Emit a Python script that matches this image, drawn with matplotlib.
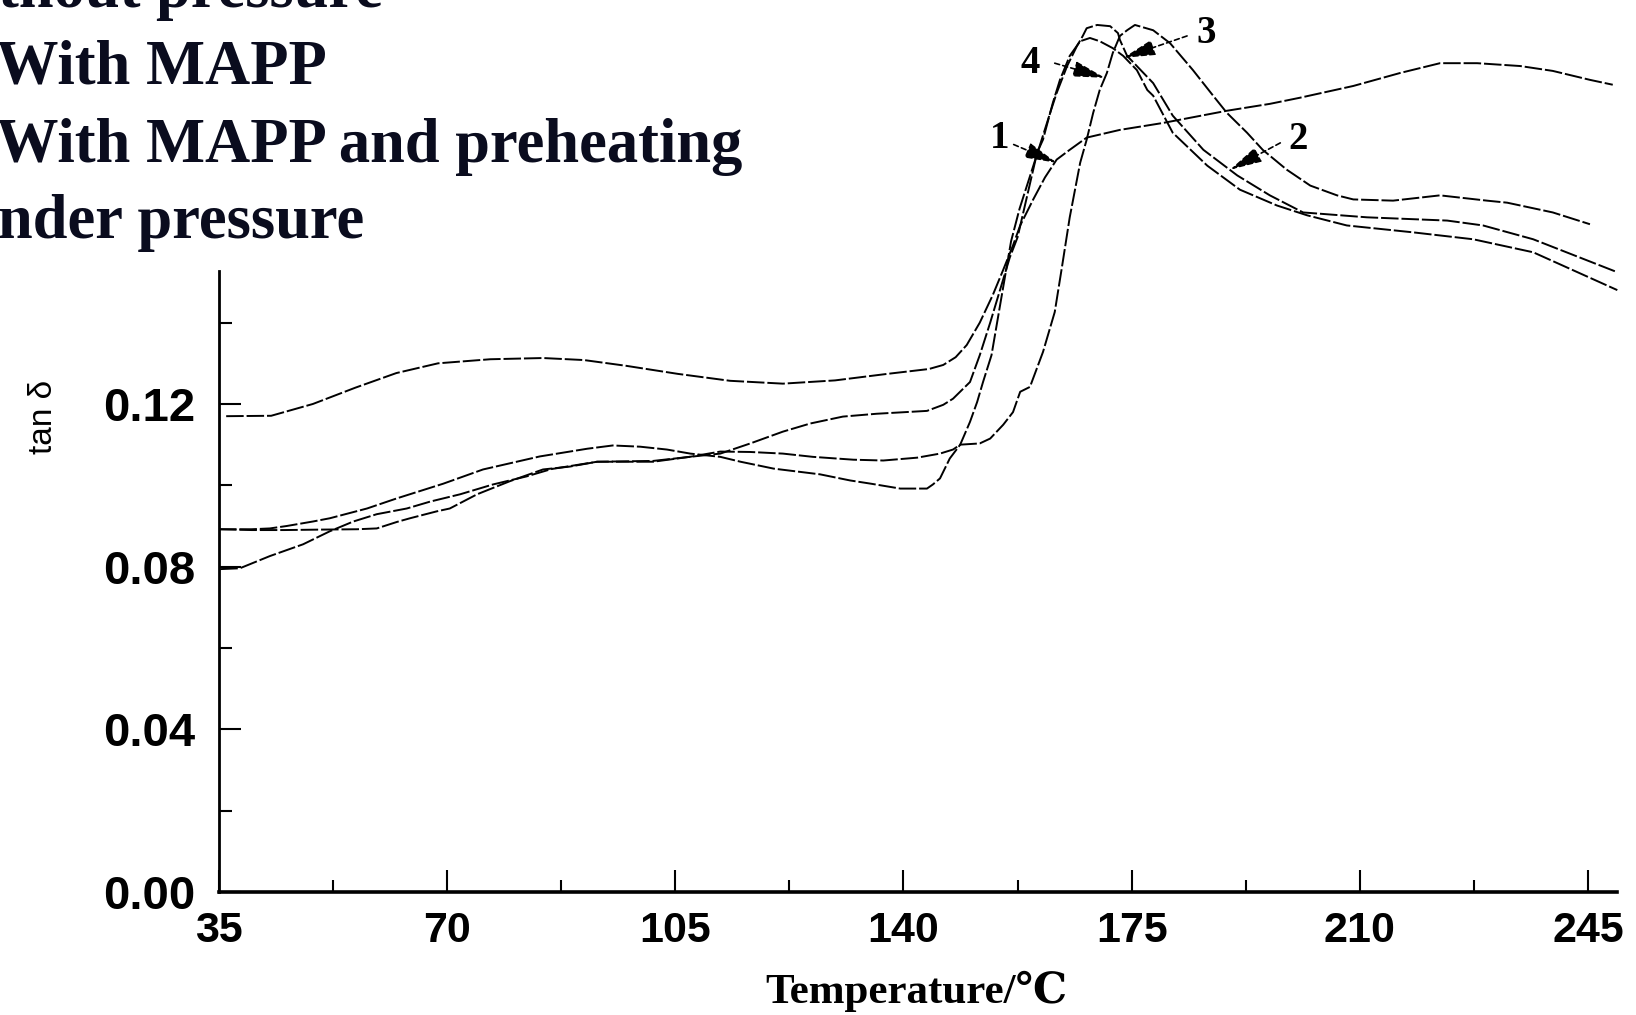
import numpy as np
import matplotlib.pyplot as plt
from matplotlib.ticker import MultipleLocator, FormatStrFormatter

# temperature (C) / tan delta
t1 = [36.1, 43.0, 49.4, 55.9, 62.2, 68.6, 76.6, 84.7, 91.0, 97.4, 105.4, 113.4, 121.5,
      129.5, 137.5, 143.9, 146.1, 148.0, 149.7, 151.7, 153.7, 155.3, 156.8, 157.9,
      159.9, 161.7, 163.5, 165.5, 168.1, 173.2, 179.8, 189.6, 196.2, 200.8, 209.0,
      216.2, 222.3, 228.0, 234.6, 239.6, 245.3, 248.8]
d1 = [0.117, 0.1171, 0.120, 0.124, 0.1276, 0.130, 0.131, 0.1313, 0.1308, 0.1294, 0.1274,
      0.1257, 0.1250, 0.1258, 0.1274, 0.1286, 0.1296, 0.1315, 0.1345, 0.1400, 0.1468,
      0.1530, 0.1590, 0.1639, 0.1703, 0.1757, 0.1801, 0.1825, 0.1855, 0.1874, 0.1891,
      0.1921, 0.1938, 0.1953, 0.1982, 0.2014, 0.2038, 0.2038, 0.2031, 0.2019, 0.1997,
      0.1985]

t2 = [35.2, 38.2, 42.8, 47.9, 52.0, 55.6, 59.2, 63.8, 67.4, 72.0, 77.0, 82.2, 86.0, 93.0,
      101.6, 107.2, 111.9, 116.5, 121.5, 125.7, 130.7, 135.9, 143.6, 146.1, 147.6, 150.2,
      151.7, 153.3, 154.8, 156.3, 157.5, 160.5, 161.4, 162.9, 164.0, 165.5, 167.1, 168.6,
      170.1, 172.1, 173.7, 175.8, 177.4, 178.3, 181.3, 186.6, 191.6, 197.3, 201.9, 208.0,
      218.2, 227.4, 236.6, 249.5]
d2 = [0.0794, 0.0796, 0.0826, 0.0855, 0.0887, 0.0911, 0.0929, 0.0943, 0.0960, 0.0978,
      0.1002, 0.1022, 0.1040, 0.1058, 0.1060, 0.1070, 0.1078, 0.1103, 0.1132, 0.1152,
      0.1169, 0.1176, 0.1183, 0.1198, 0.1213, 0.1254, 0.1320, 0.1400, 0.1480, 0.1560,
      0.1610, 0.1818, 0.1850, 0.1940, 0.1997, 0.2056, 0.2092, 0.2100, 0.2092, 0.2075,
      0.2056, 0.2021, 0.1972, 0.1958, 0.1867, 0.1786, 0.1727, 0.1688, 0.1664, 0.1639,
      0.1622, 0.1605, 0.1573, 0.1480]

t3 = [35.0, 40.0, 42.8, 45.4, 49.4, 52.0, 57.7, 62.3, 69.4, 75.5, 84.2, 91.5, 95.4, 99.6,
      103.7, 107.3, 111.9, 115.0, 120.1, 127.2, 131.8, 135.0, 139.5, 143.6, 144.5, 145.6,
      147.1, 148.7, 150.2, 151.3, 152.2, 153.5, 155.0, 156.5, 157.8, 160.9, 162.5, 163.5,
      165.1, 166.6, 167.5, 168.1, 169.7, 171.7, 172.9, 173.2, 174.3, 178.3, 181.3, 186.0,
      191.2, 196.2, 201.3, 211.1, 223.4, 228.9, 236.6, 249.5]
d3 = [0.0892, 0.0892, 0.0894, 0.0900, 0.0911, 0.0919, 0.0943, 0.0968, 0.1004, 0.1039,
      0.1071, 0.1090, 0.1098, 0.1095, 0.1088, 0.1078, 0.1070, 0.1058, 0.1041, 0.1027,
      0.1012, 0.1004, 0.0992, 0.0992, 0.1002, 0.1017, 0.1066, 0.1100, 0.1156, 0.1205,
      0.1254, 0.1320, 0.1460, 0.1600, 0.1680, 0.1835, 0.1916, 0.1965, 0.2031, 0.2080,
      0.2105, 0.2124, 0.2132, 0.2129, 0.2112, 0.2095, 0.2056, 0.1989, 0.1909, 0.1825,
      0.1762, 0.1713, 0.1671, 0.1659, 0.1651, 0.1639, 0.1605, 0.1524]

t4 = [35.0, 40.0, 45.0, 50.0, 56.2, 59.2, 62.3, 64.3, 68.4, 70.4, 74.6, 79.6, 84.7, 88.8,
      93.0, 101.6, 107.2, 111.9, 116.5, 121.5, 126.1, 132.3, 136.9, 142.1, 145.6, 147.6,
      148.7, 151.7, 153.3, 155.3, 156.8, 157.9, 159.4, 161.4, 163.2, 164.3, 165.5, 167.1,
      168.1, 169.1, 170.1, 171.2, 172.1, 173.2, 174.3, 175.5, 178.3, 180.9, 184.4, 187.5,
      189.6, 192.7, 195.1, 198.8, 202.4, 206.5, 209.0, 215.1, 222.3, 229.5, 232.6, 239.6,
      245.3]
d4 = [0.0892, 0.0890, 0.0890, 0.0891, 0.0892, 0.0894, 0.0910, 0.0919, 0.0936, 0.0943,
      0.0978, 0.1010, 0.1039, 0.1046, 0.1058, 0.1058, 0.1070, 0.1083, 0.1082, 0.1078,
      0.1070, 0.1063, 0.1061, 0.1068, 0.1078, 0.1088, 0.1100, 0.1103, 0.1115, 0.1149,
      0.1180, 0.1230, 0.1242, 0.1328, 0.1426, 0.1536, 0.1659, 0.1793, 0.1850, 0.1916,
      0.1972, 0.2014, 0.2063, 0.2105, 0.2119, 0.2132, 0.2119, 0.2087, 0.2021, 0.1958,
      0.1916, 0.1867, 0.1825, 0.1776, 0.1737, 0.1713, 0.1703, 0.1700, 0.1713, 0.1700,
      0.1695, 0.1671, 0.1642]

curvas = [(t1, d1), (t2, d2), (t3, d3), (t4, d4)]

# curve number labels: label pos, leader start, arrow tip
etiquetas = ["1", "2", "3", "4"]
pos_etiqueta = [(154.8, 0.1852), (200.6, 0.1850), (186.4, 0.2112), (159.4, 0.2038)]
inicio_flecha = [(156.9, 0.1838), (197.8, 0.1842), (183.5, 0.2105), (163.2, 0.2038)]
punta_flecha = [(163.5, 0.1793), (190.1, 0.1776), (173.7, 0.2051), (170.9, 0.2002)]

leyenda = ["thout pressure", "With MAPP", "With MAPP and preheating", "nder pressure"]
base_leyenda = [7, 83, 162, 238]   # pixel baselines from the top

W, H = 1636, 1015
fig = plt.figure(figsize=(W / 100, H / 100), dpi=100)
ax = fig.add_axes([219 / W, 1 - 892 / H, (1617 - 219) / W, (892 - 271) / H])

for tx, dy in curvas:
    ax.plot(tx, dy, color='k', lw=1.4, ls=(0, (9, 1.5)), clip_on=False)

for lab, p, a, b in zip(etiquetas, pos_etiqueta, inicio_flecha, punta_flecha):
    ax.annotate('', xy=b, xytext=a, annotation_clip=False,
                arrowprops=dict(arrowstyle='-|>,head_length=0.9,head_width=0.22',
                                color='k', lw=1.2, ls=(0, (3, 2)),
                                shrinkA=0, shrinkB=0, mutation_scale=22))
    ax.text(p[0], p[1], lab, fontsize=28, fontweight='bold', family='Liberation Serif',
            ha='center', va='center', clip_on=False)

ax.set_xlim(35, 249.45)
ax.set_ylim(0, 0.1527)
ax.xaxis.set_major_locator(MultipleLocator(35))
ax.xaxis.set_minor_locator(MultipleLocator(17.5))
ax.yaxis.set_major_locator(MultipleLocator(0.04))
ax.yaxis.set_minor_locator(MultipleLocator(0.02))
ax.yaxis.set_major_formatter(FormatStrFormatter('%.2f'))

for s in ['top', 'right']:
    ax.spines[s].set_visible(False)
ax.spines['left'].set_linewidth(2.0)
ax.spines['bottom'].set_linewidth(2.6)

ax.tick_params(which='major', direction='in', length=16, width=1.5)
ax.tick_params(which='minor', direction='in', length=9, width=1.5)
ax.tick_params(axis='y', which='major', pad=17)
ax.tick_params(axis='x', which='major', pad=14)
for lbl in ax.get_xticklabels():
    lbl.set_family('Liberation Sans')
    lbl.set_fontweight('bold')
    lbl.set_fontsize(31)
for lbl in ax.get_yticklabels():
    lbl.set_family('Liberation Sans')
    lbl.set_fontweight('bold')
    lbl.set_fontsize(34)

fig.text(916 / W, 1 - 991 / H, 'Temperature/℃', ha='center', va='center',
         fontsize=31, fontweight='bold', family=['Liberation Serif', 'DejaVu Serif'])
fig.text(44 / W, 1 - 417 / H, 'tan δ', rotation=90, ha='center', va='center',
         fontsize=24, family=['Liberation Sans', 'DejaVu Sans'])

for txt, yb in zip(leyenda, base_leyenda):
    x0 = -4 if txt.startswith('W') else -2
    fig.text(x0 / W, 1 - yb / H, txt, ha='left', va='baseline', fontsize=45,
             fontweight='bold', family='Liberation Serif', color='#0a0c1e')

fig.savefig('out.png', dpi=100)
